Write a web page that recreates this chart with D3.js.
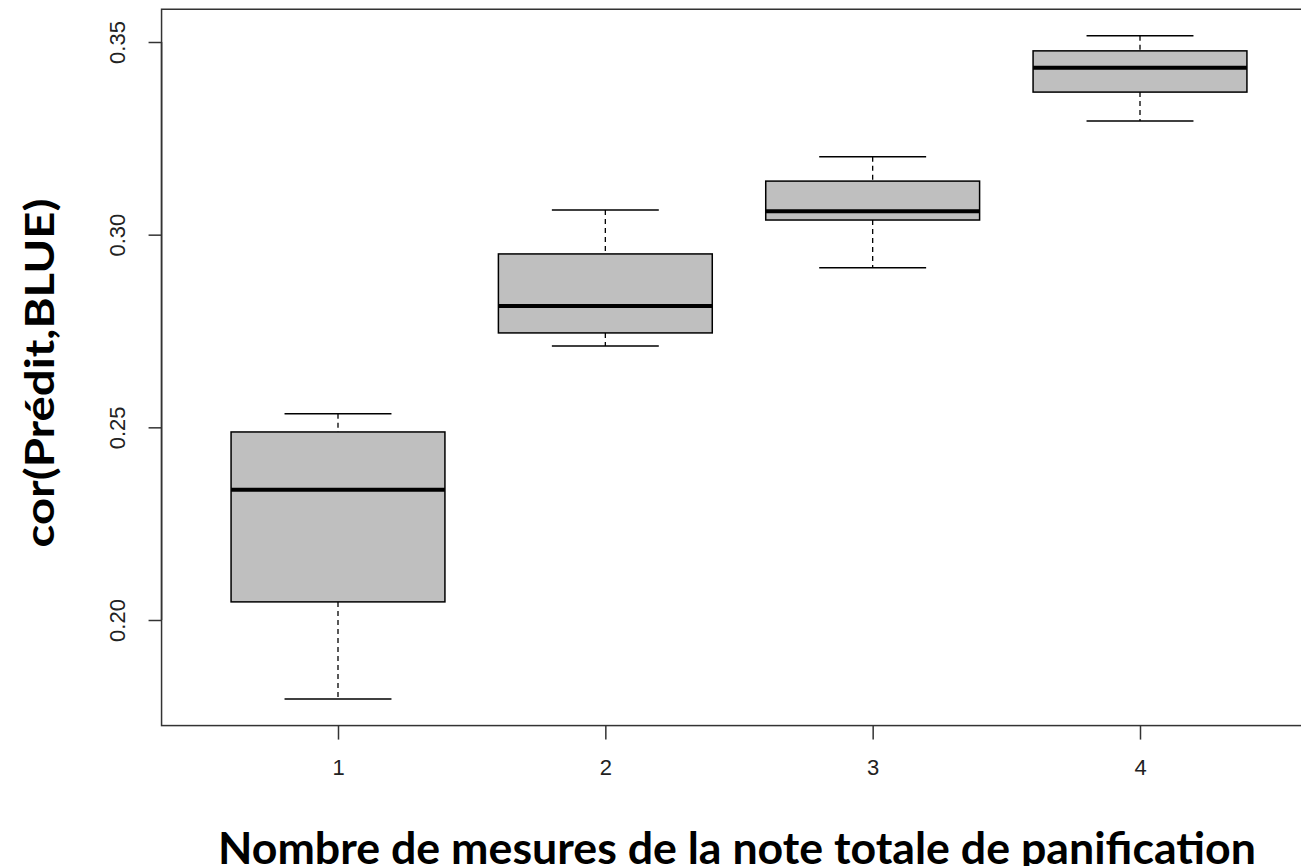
<!DOCTYPE html>
<html><head><meta charset="utf-8">
<script src="https://cdn.jsdelivr.net/npm/d3@7"></script>
<style>body{margin:0;background:#fff}svg{display:block}</style>
</head><body>
<svg id="c" width="1301" height="866"></svg>
<script>
const categories = [1, 2, 3, 4];
const whiskerLow  = [0.1795, 0.2711, 0.2914, 0.3295];
const q1          = [0.2047, 0.2745, 0.3038, 0.3370];
const median      = [0.2338, 0.2815, 0.3061, 0.3433];
const q3          = [0.2488, 0.2950, 0.3139, 0.3477];
const whiskerHigh = [0.2535, 0.3064, 0.3202, 0.3516];
const yTicks = [0.20, 0.25, 0.30, 0.35];
const yTitle = "cor(Prédit,BLUE)";
const xTitle = "Nombre de mesures de la note totale de panification";

const svg = d3.select("#c");
const x = d3.scaleLinear().domain([1, 4]).range([338, 1140]);
const y = d3.scaleLinear().domain([0.20, 0.35]).range([620, 42]);
const xmin = 0.34, xmax = 4.66, ymin = 0.1726, ymax = 0.3585;

const data = categories.map((c, i) => ({c, lo: whiskerLow[i], q1: q1[i], med: median[i], q3: q3[i], hi: whiskerHigh[i]}));
const hw = 0.4, cw = 0.2;
const g = svg.append("g");
data.forEach(d => {
  g.append("line").attr("x1", x(d.c)).attr("x2", x(d.c)).attr("y1", y(d.hi)).attr("y2", y(d.q3))
    .attr("stroke", "#000").attr("stroke-width", 1.3).attr("stroke-dasharray", "5,4");
  g.append("line").attr("x1", x(d.c)).attr("x2", x(d.c)).attr("y1", y(d.q1)).attr("y2", y(d.lo))
    .attr("stroke", "#000").attr("stroke-width", 1.3).attr("stroke-dasharray", "5,4");
  [d.lo, d.hi].forEach(v => g.append("line").attr("x1", x(d.c - cw)).attr("x2", x(d.c + cw))
    .attr("y1", y(v)).attr("y2", y(v)).attr("stroke", "#000").attr("stroke-width", 1.5));
  g.append("rect").attr("x", x(d.c - hw)).attr("width", x(d.c + hw) - x(d.c - hw))
    .attr("y", y(d.q3)).attr("height", y(d.q1) - y(d.q3))
    .attr("fill", "#bfbfbf").attr("stroke", "#000").attr("stroke-width", 1.5);
  g.append("line").attr("x1", x(d.c - hw)).attr("x2", x(d.c + hw)).attr("y1", y(d.med)).attr("y2", y(d.med))
    .attr("stroke", "#000").attr("stroke-width", 4);
});

svg.append("rect").attr("x", x(xmin)).attr("y", y(ymax)).attr("width", x(xmax) - x(xmin))
  .attr("height", y(ymin) - y(ymax)).attr("fill", "none").attr("stroke", "#333").attr("stroke-width", 1.5);

const yAxis = d3.axisLeft(y).tickValues(yTicks).tickFormat(d3.format(".2f")).tickSize(13).tickPadding(0);
const ya = svg.append("g").attr("transform", `translate(${x(xmin)},0)`).call(yAxis);
ya.select(".domain").attr("d", `M0,${y(yTicks[0])}V${y(yTicks[yTicks.length-1])}`).attr("stroke", "#333").attr("stroke-width", 1.5);
ya.selectAll(".tick line").attr("stroke", "#333").attr("stroke-width", 1.5);
ya.selectAll(".tick text").attr("x", null).attr("dy", null)
  .attr("transform", "translate(-42,0) rotate(-90)").attr("text-anchor", "middle").attr("dominant-baseline", "middle")
  .style("font-family", "Liberation Sans, Arial, sans-serif").style("font-size", "22px").attr("fill", "#222");

const xAxis = d3.axisBottom(x).tickValues(categories).tickFormat(d3.format("d")).tickSize(14).tickPadding(20);
const xa = svg.append("g").attr("transform", `translate(0,${y(ymin)})`).call(xAxis);
xa.select(".domain").remove();
xa.selectAll(".tick line").attr("stroke", "#333").attr("stroke-width", 1.5);
xa.selectAll(".tick text").style("font-family", "Liberation Sans, Arial, sans-serif").style("font-size", "22px").attr("fill", "#222");

svg.append("text").attr("x", 737).attr("y", 864).attr("text-anchor", "middle")
  .attr("textLength", 1038).attr("lengthAdjust", "spacingAndGlyphs")
  .style("font-family", "Lato, 'Open Sans', sans-serif").style("font-weight", "bold").style("font-size", "44px")
  .attr("fill", "#000").text(xTitle);
svg.append("text").attr("transform", "translate(54,373) rotate(-90)").attr("text-anchor", "middle")
  .attr("textLength", 349).attr("lengthAdjust", "spacingAndGlyphs")
  .style("font-family", "Lato, 'Open Sans', sans-serif").style("font-weight", "bold").style("font-size", "40px")
  .attr("fill", "#000").text(yTitle);
</script>
</body></html>
